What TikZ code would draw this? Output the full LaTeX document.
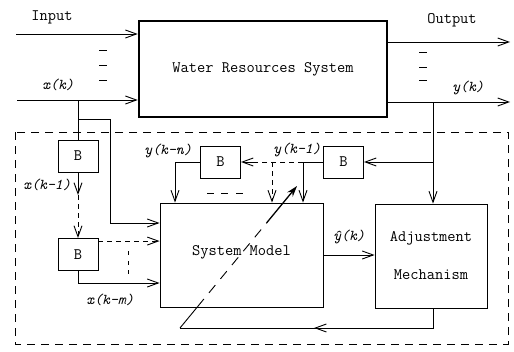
\documentclass[tikz,border=0pt]{standalone}
\usepackage{fontspec}
\usetikzlibrary{arrows.meta,calc}
\begin{document}
\begin{tikzpicture}[x=1pt,y=-1pt,
  every node/.style={font=\fontsize{16}{18}\selectfont\ttfamily},
  lbl/.style={font=\fontsize{15}{17}\selectfont\ttfamily\itshape, inner sep=0pt},
  bx/.style={draw, line width=0.9pt, inner sep=0pt},
  bblk/.style={bx, minimum width=40pt, minimum height=32pt},
  ln/.style={line width=0.9pt},
  arr/.style={ln, -{Straight Barb[length=11pt,width=8pt,line width=0.9pt]}},
  dsh/.style={dash pattern=on 5pt off 4pt},
]
\useasboundingbox (0,0) rectangle (514,351);

% enclosure
\draw[line width=0.9pt, dash pattern=on 8pt off 6pt] (15,132) rectangle (508,344);

% main blocks
\node[bx, line width=2.6pt, minimum width=248pt, minimum height=96pt] (wrs) at (263,69) {Water Resources System};
\node[bx, minimum width=163pt, minimum height=104pt] (sm) at (241.5,255) {\raisebox{8pt}{System Model}};
\node[bx, minimum width=112pt, minimum height=104pt, align=center] (am) at (431,256) {Adjustment\\[20pt]Mechanism};

\node[bblk] (b1) at (78,156) {B};
\node[bblk] (b2) at (78,254.5) {B};
\node[bblk] (bn) at (220.5,162) {B};
\node[bblk] (b1y) at (343.5,162) {B};

% labels
\node[inner sep=0pt] (tin) at (52,17) {Input};
\node[inner sep=0pt] (tout) at (452,20) {Output};
\node[lbl] (lxk) at (58,85) {x(k)};
\node[lbl] (lyk) at (468,88) {y(k)};
\node[lbl] (lxk1) at (47,185) {x(k-1)};
\node[lbl] (lxkm) at (110,300) {x(k-m)};
\node[lbl] (lykn) at (168,151) {y(k-n)};
\node[lbl] (lyk1) at (297,150) {y(k-1)};
\node[lbl] (lyhat) at (349,237) {\^{y}(k)};

% inputs
\coordinate (in1) at (16,34);
\coordinate (in2) at (17,100);
\draw[arr] (in1) -- (in1 -| wrs.west);
\draw[arr] (in2) -- (in2 -| wrs.west);
\foreach \yy in {50,65,80} \draw[ln] (99,\yy) -- (107,\yy);

% outputs
\coordinate (out1) at (510,42);
\coordinate (out2) at (510,102);
\draw[arr] (out1 -| wrs.east) -- (out1);
\draw[arr] (out2 -| wrs.east) -- (out2);
\foreach \yy in {52,67,80} \draw[ln] (419,\yy) -- (427,\yy);

% x(k) branches
\coordinate (jx) at (78,100);
\coordinate (jx2) at (78,119);
\coordinate (sx1) at (110,223);
\draw[ln] (jx) -- (b1.north);
\draw[arr] (jx2) -| (sx1) -- (sx1 -| sm.west);

% delay chain for x
\coordinate (m1) at (78,195);
\draw[arr] (b1.south) -- (m1);
\draw[arr, dsh] (m1) -- (b2.north);
\coordinate (sx2) at ($(b2.north east)+(0,3)$);
\draw[arr, dsh] (sx2) -- (sx2 -| sm.west);
\foreach \yy in {251,261,270} \draw[ln] (128,\yy) -- (128,\yy+4);
\coordinate (sx3) at (78,283);
\draw[arr] (b2.south) -- (sx3) -- (sx3 -| sm.west);

% y feedback
\coordinate (jy) at (433,102);
\coordinate (jy2) at (433,162);
\draw[arr] (jy) -- (jy |- am.north);
\draw[arr] (jy2) -- (b1y.east);
\coordinate (ty1) at (303,162);
\coordinate (ty2) at (272,162);
\coordinate (ty3) at (256,162);
\draw[ln] (b1y.west) -- (ty1);
\draw[arr] (ty1) -- (ty1 |- sm.north);
\draw[ln, dsh] (ty1) -- (ty3);
\draw[arr, dsh] (ty2) -- (ty2 |- sm.north);
\draw[arr] (ty3) -- (bn.east);
\coordinate (tn) at (175,162);
\draw[arr] (bn.west) -- (tn) -- (tn |- sm.north);
\foreach \xx in {207,221,236} \draw[ln] (\xx,193) -- (\xx+7,193);

% model output to adjustment
\draw[arr] (sm.east) -- (am.west |- sm.east);

% adjustment feedback
\coordinate (fb1) at (433,328);
\coordinate (fb2) at (180,328);
\coordinate (dtip) at (297,186);
\draw[ln] (fb1 |- am.south) -- (fb1) -- (fb2);
\draw[arr] (fb1) -- ($(fb1)!0.47!(fb2)$);
\draw[ln] (fb2) -- ($(fb2)!0.15!(dtip)$);
\draw[ln, dash pattern=on 10pt off 8pt] ($(fb2)!0.15!(dtip)$) -- ($(fb2)!0.74!(dtip)$);
\draw[line width=1.3pt, -{Stealth[length=11pt,width=7pt]}] ($(fb2)!0.74!(dtip)$) -- (dtip);
\end{tikzpicture}
\end{document}
